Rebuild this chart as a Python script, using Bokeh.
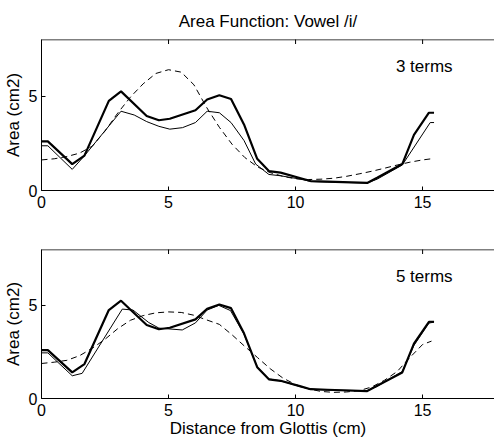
import math
from bokeh.plotting import figure
from bokeh.layouts import column
from bokeh.models import FixedTicker, Range1d, Span
from bokeh.core.properties import value
from bokeh.embed import file_html
from bokeh.resources import INLINE

# ---- data ----
x_tick_values = [0, 5, 10, 15]
y_tick_values = [0, 5]

# measured area function (thick line, same in both panels)
x_meas = [0, 0.25, 1.21, 1.69, 2.65, 3.13, 4.14, 4.62, 5.05, 6.06, 6.52, 7.0, 7.46,
          7.97, 8.49, 8.95, 9.41, 10.2, 10.59, 11.25, 12.82, 13.21, 14.2, 14.66, 15.25, 15.45]
a_meas = [2.6, 2.6, 1.4, 1.85, 4.75, 5.25, 3.95, 3.72, 3.8, 4.25, 4.82, 5.05, 4.85,
          3.5, 1.68, 1.03, 0.95, 0.65, 0.5, 0.47, 0.4, 0.68, 1.4, 2.95, 4.12, 4.12]

# reconstruction, 3 terms (thin line, top panel)
x_rec3 = [0, 0.25, 1.21, 1.69, 3.13, 3.65, 4.14, 4.62, 5.05, 5.55, 6.06, 6.52, 7.0,
          7.46, 7.97, 8.43, 8.95, 9.41, 10.2, 10.59, 11.25, 12.82, 13.21, 14.2, 15.3, 15.45]
a_rec3 = [2.37, 2.37, 1.12, 1.84, 4.2, 4.0, 3.65, 3.4, 3.25, 3.33, 3.6, 4.2, 4.12,
          3.6, 2.65, 1.4, 0.85, 0.78, 0.6, 0.48, 0.45, 0.4, 0.6, 1.35, 3.6, 3.6]

# reconstruction, 5 terms (thin line, bottom panel)
x_rec5 = [0, 0.25, 1.21, 1.6, 3.18, 3.6, 4.22, 4.62, 5.54, 6.06, 6.52, 6.98, 7.44,
          7.97, 8.49, 8.95, 9.41, 10.2, 10.59, 11.25, 12.82, 13.21, 14.2, 14.66, 15.25, 15.45]
a_rec5 = [2.45, 2.45, 1.22, 1.35, 4.8, 4.75, 4.08, 3.78, 3.68, 4.06, 4.75, 5.0, 4.72,
          3.45, 1.7, 1.05, 0.95, 0.63, 0.5, 0.45, 0.42, 0.65, 1.45, 2.85, 4.05, 4.1]

# smooth (dashed) curves
x_smooth = [0, 0.5, 1.0, 1.5, 2.0, 2.5, 3.0, 3.5, 4.0, 4.5, 5.0, 5.5, 6.0, 6.5, 7.0, 7.5,
            8.0, 8.5, 9.0, 9.5, 10.0, 10.5, 11.0, 11.5, 12.0, 12.5, 13.0, 13.5, 14.0,
            14.5, 15.0, 15.35]
d_3terms = [1.62, 1.68, 1.8, 1.98, 2.35, 3.15, 4.1, 4.95, 5.65, 6.2, 6.4, 6.27, 5.6, 4.4,
            3.35, 2.45, 1.75, 1.25, 0.95, 0.75, 0.62, 0.58, 0.6, 0.65, 0.75, 0.88, 1.02,
            1.18, 1.35, 1.5, 1.62, 1.68]
d_5terms = [1.88, 1.95, 2.05, 2.3, 2.7, 3.18, 3.75, 4.2, 4.45, 4.6, 4.65, 4.62, 4.47, 4.22,
            3.98, 3.42, 2.8, 2.2, 1.6, 1.1, 0.75, 0.52, 0.38, 0.33, 0.35, 0.42, 0.62,
            0.98, 1.45, 2.2, 2.9, 3.08]

title_text = "Area Function: Vowel /i/"
y_label = "Area (cm2)"
x_label = "Distance from Glottis (cm)"
panel_labels = ["3 terms", "5 terms"]

FONT = "Liberation Sans"
X_END = 17.83
Y_END = 8


def style_axes(p, show_xlabel):
    p.grid.visible = False
    p.outline_line_color = None
    p.background_fill_color = "white"
    p.border_fill_color = "white"
    p.xaxis.ticker = FixedTicker(ticks=x_tick_values)
    p.yaxis.ticker = FixedTicker(ticks=y_tick_values)
    for ax in list(p.xaxis) + list(p.yaxis):
        ax.major_tick_in = 4
        ax.major_tick_out = 0
        ax.minor_tick_line_color = None
        ax.axis_line_color = "black"
        ax.major_tick_line_color = "black"
        ax.major_label_text_font = FONT
        ax.major_label_text_font_size = "16px"
        ax.major_label_text_color = "black"
        ax.axis_label_text_font = FONT
        ax.axis_label_text_font_size = "17px"
        ax.axis_label_text_font_style = "normal"
        ax.axis_label_text_color = "black"
    p.yaxis.axis_label = y_label
    p.yaxis.axis_label_standoff = 3
    p.yaxis.major_label_standoff = 4
    p.xaxis.major_label_standoff = 5
    if show_xlabel:
        p.xaxis.axis_label = x_label
        p.xaxis.axis_label_standoff = 0
    # top frame edge and inward top ticks
    p.add_layout(Span(location=Y_END, dimension="width", line_color="black", line_width=1.5))
    p.scatter(x_tick_values, [Y_END] * len(x_tick_values), marker="dash",
              angle=math.pi / 2, size=9, line_color="black", line_width=1)


p1 = figure(width=494, height=220, output_backend="svg", toolbar_location=None,
            x_range=Range1d(0, X_END), y_range=Range1d(0, Y_END),
            min_border_left=41, min_border_right=0, min_border_top=39, min_border_bottom=30)
p1.title.text = title_text
p1.title.align = "center"
p1.title.text_font = FONT
p1.title.text_font_size = "17px"
p1.title.text_font_style = "normal"
p1.title.text_color = "black"
p1.title.standoff = 17
style_axes(p1, False)
p1.line(x_smooth, d_3terms, line_color="black", line_width=1, line_dash="6 4")
p1.line(x_rec3, a_rec3, line_color="black", line_width=1)
p1.line(x_meas, a_meas, line_color="black", line_width=2.2)
p1.text(x=[13.95], y=[6.58], text=[panel_labels[0]], text_font=value(FONT),
        text_font_size="17px", text_baseline="alphabetic", text_color="black")

p2 = figure(width=494, height=221, output_backend="svg", toolbar_location=None,
            x_range=Range1d(0, X_END), y_range=Range1d(0, Y_END),
            min_border_left=41, min_border_right=0, min_border_top=29, min_border_bottom=43)
style_axes(p2, True)
p2.line(x_smooth, d_5terms, line_color="black", line_width=1, line_dash="6 4")
p2.line(x_rec5, a_rec5, line_color="black", line_width=1)
p2.line(x_meas, a_meas, line_color="black", line_width=2.2)
p2.text(x=[13.95], y=[6.55], text=[panel_labels[1]], text_font=value(FONT),
        text_font_size="17px", text_baseline="alphabetic", text_color="black")

layout = column(p1, p2, spacing=0)
open("out.html", "w").write(file_html(layout, INLINE))
